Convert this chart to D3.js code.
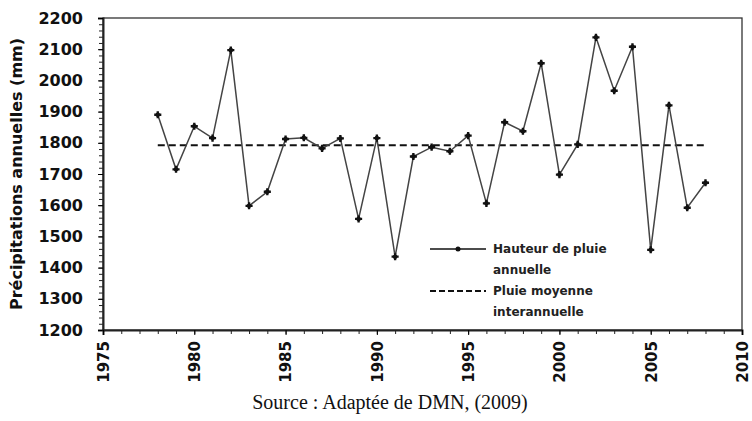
<!DOCTYPE html>
<html>
<head>
<meta charset="utf-8">
<script src="https://cdn.jsdelivr.net/npm/d3@7"></script>
<style>
    body { margin: 0; background: #fff; }
    svg { display: block; }
</style>
</head>
<body>
<div id="chart"></div>
<script>
// annual rainfall (mm)
const years = [1978, 1979, 1980, 1981, 1982, 1983, 1984, 1985, 1986, 1987, 1988,
               1989, 1990, 1991, 1992, 1993, 1994, 1995, 1996, 1997, 1998, 1999,
               2000, 2001, 2002, 2003, 2004, 2005, 2006, 2007, 2008];
const rainfall = [1890, 1715, 1853, 1815, 2097, 1598, 1643, 1812, 1816, 1782, 1814,
                  1556, 1815, 1435, 1756, 1786, 1773, 1823, 1606, 1866, 1837, 2055,
                  1698, 1795, 2138, 1967, 2108, 1457, 1920, 1592, 1672];
const meanRainfall = 1792;
const yTicks = [1200, 1300, 1400, 1500, 1600, 1700, 1800, 1900, 2000, 2100, 2200];
const xTicks = [1975, 1980, 1985, 1990, 1995, 2000, 2005, 2010];
const legendLabels = [["Hauteur de pluie", "annuelle"], ["Pluie moyenne", "interannuelle"]];

let width  = 752;
let height = 421;
let margin = {top: 18, right: 10, bottom: 91, left: 103};
let box_width  = width - margin.left - margin.right;
let box_height = height - margin.top - margin.bottom;

let svg = d3.select("#chart")
    .append("svg")
    .attr("width", width)
    .attr("height", height);

let g = svg.append("g")
    .attr("transform", "translate(" + margin.left + "," + margin.top + ")");

let x = d3.scaleLinear().domain([1975, 2010]).range([0, box_width]);
let y = d3.scaleLinear().domain([1200, 2200]).range([box_height, 0]);

// minor ticks
g.append("g")
    .call(d3.axisLeft(y).tickValues(d3.range(1200, 2201, 20)).tickSize(4).tickFormat(""))
    .call(a => a.select(".domain").remove())
    .selectAll("line").attr("stroke", "#222");

g.append("g")
    .attr("transform", "translate(0," + box_height + ")")
    .call(d3.axisBottom(x).tickValues(d3.range(1975, 2011, 1)).tickSize(4).tickFormat(""))
    .call(a => a.select(".domain").remove())
    .selectAll("line").attr("stroke", "#222");

// frame
g.append("rect")
    .attr("width", box_width)
    .attr("height", box_height)
    .attr("fill", "none")
    .attr("stroke", "#333")
    .attr("stroke-width", 1.3);

let label_font = "DejaVu Sans";

let yAxis = g.append("g")
    .call(d3.axisLeft(y).tickValues(yTicks).tickSize(5).tickPadding(15).tickFormat(d3.format("d")))
    .call(a => a.select(".domain").attr("stroke", "#222").attr("stroke-width", 2));
yAxis.selectAll("text")
    .attr("font-family", label_font)
    .attr("font-weight", "bold")
    .attr("font-size", 16)
    .attr("fill", "#111");

let xAxis = g.append("g")
    .attr("transform", "translate(0," + box_height + ")")
    .call(d3.axisBottom(x).tickValues(xTicks).tickSize(5).tickFormat(d3.format("d")))
    .call(a => a.select(".domain").attr("stroke", "#222").attr("stroke-width", 2));
xAxis.selectAll("text")
    .attr("font-family", label_font)
    .attr("font-weight", "bold")
    .attr("font-size", 15)
    .attr("fill", "#111")
    .attr("text-anchor", "end")
    .attr("transform", "rotate(-90)")
    .attr("x", -11)
    .attr("y", 0)
    .attr("dy", "0.36em");

// y label
svg.append("text")
    .attr("transform", "translate(22," + (margin.top + box_height / 2) + ") rotate(-90)")
    .attr("text-anchor", "middle")
    .attr("font-family", label_font)
    .attr("font-weight", "bold")
    .attr("font-size", 16)
    .attr("fill", "#111")
    .text("Précipitations annuelles (mm)");

// mean line
g.append("line")
    .attr("x1", x(years[0]))
    .attr("x2", x(years[years.length - 1]))
    .attr("y1", y(meanRainfall))
    .attr("y2", y(meanRainfall))
    .attr("stroke", "#111")
    .attr("stroke-width", 2)
    .attr("stroke-dasharray", "7,4");

let points = years.map((yr, i) => ({x: yr, y: rainfall[i]}));

g.append("path")
    .datum(points)
    .attr("fill", "none")
    .attr("stroke", "#444")
    .attr("stroke-width", 1.5)
    .attr("d", d3.line().x(d => x(d.x)).y(d => y(d.y)));

let marker = d3.symbol().type(d3.symbolCross).size(28);
g.selectAll(".pt")
    .data(points)
    .enter()
    .append("g")
    .attr("transform", d => "translate(" + x(d.x) + "," + y(d.y) + ")")
    .each(function () {
        d3.select(this).append("circle").attr("r", 2.3).attr("fill", "#111");
        d3.select(this).append("path").attr("d", marker()).attr("fill", "#111");
    });

// legend
let legend = g.append("g").attr("transform", "translate(" + (430 - margin.left) + "," + (249 - margin.top) + ")");
legend.append("line")
    .attr("x1", 0).attr("x2", 56).attr("y1", 0).attr("y2", 0)
    .attr("stroke", "#111").attr("stroke-width", 1.5);
legend.append("circle").attr("cx", 28).attr("cy", 0).attr("r", 2.5).attr("fill", "#111");
legend.append("line")
    .attr("x1", 0).attr("x2", 56).attr("y1", 42).attr("y2", 42)
    .attr("stroke", "#111").attr("stroke-width", 2)
    .attr("stroke-dasharray", "6,3");

legendLabels.forEach((lines, i) => {
    lines.forEach((t, j) => {
        legend.append("text")
            .attr("x", 63)
            .attr("y", i * 42 + j * 21 + 4)
            .attr("font-family", label_font)
            .attr("font-weight", "bold")
            .attr("font-size", 12)
            .attr("fill", "#222")
            .text(t);
    });
});

// source
svg.append("text")
    .attr("x", 390)
    .attr("y", 409)
    .attr("text-anchor", "middle")
    .attr("font-family", "Liberation Serif")
    .attr("font-size", 20)
    .attr("fill", "#111")
    .text("Source : Adaptée de DMN, (2009)");
</script>
</body>
</html>
